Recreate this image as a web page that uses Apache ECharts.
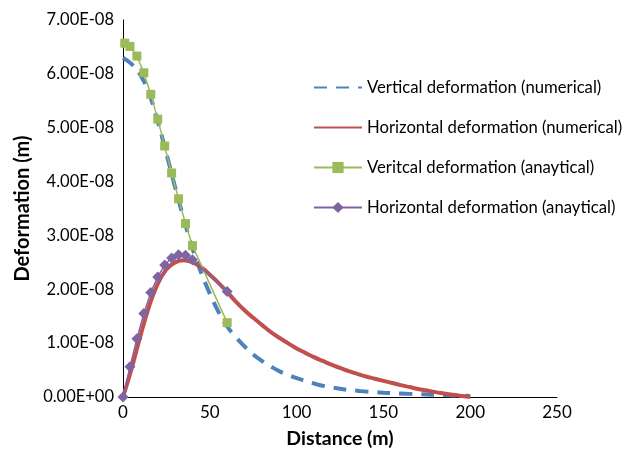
<!DOCTYPE html>
<html>
<head>
<meta charset="utf-8">
<script src="https://cdn.jsdelivr.net/npm/echarts@6/dist/echarts.min.js"></script>
<style>html,body{margin:0;padding:0;background:#fff}#c{width:635px;height:450px}</style>
</head>
<body>
<div id="c"></div>
<script>
// Numerical curves (every 5 m)
const numX = [0, 5, 10, 15, 20, 25, 30, 35, 40, 45, 50, 55, 60, 65, 70, 75, 80, 85, 90, 95, 100, 105, 110, 115, 120, 125, 130, 135, 140, 145, 150, 155, 160, 165, 170, 175, 180, 185, 190, 195, 200];
const vertNum = [6.30e-8, 6.18e-8, 5.98e-8, 5.64e-8, 5.12e-8, 4.52e-8, 3.90e-8, 3.31e-8, 2.76e-8, 2.31e-8, 1.92e-8, 1.58e-8, 1.31e-8, 1.11e-8, 0.94e-8, 0.79e-8, 0.67e-8, 0.57e-8, 0.48e-8, 0.41e-8, 0.35e-8, 0.30e-8, 0.25e-8, 0.21e-8, 0.18e-8, 0.155e-8, 0.13e-8, 0.115e-8, 0.10e-8, 0.09e-8, 0.08e-8, 0.072e-8, 0.065e-8, 0.058e-8, 0.052e-8, 0.046e-8, 0.04e-8, 0.035e-8, 0.03e-8, 0.025e-8, 0.02e-8];
const horNum = [0, 0.53e-8, 1.13e-8, 1.68e-8, 2.10e-8, 2.37e-8, 2.50e-8, 2.54e-8, 2.50e-8, 2.41e-8, 2.27e-8, 2.12e-8, 1.95e-8, 1.77e-8, 1.61e-8, 1.47e-8, 1.34e-8, 1.21e-8, 1.10e-8, 1.00e-8, 0.90e-8, 0.82e-8, 0.74e-8, 0.67e-8, 0.60e-8, 0.54e-8, 0.48e-8, 0.43e-8, 0.38e-8, 0.34e-8, 0.30e-8, 0.26e-8, 0.22e-8, 0.185e-8, 0.15e-8, 0.12e-8, 0.09e-8, 0.065e-8, 0.04e-8, 0.02e-8, 0];
// Analytical points
const anaX = [1, 4, 8, 12, 16, 20, 24, 28, 32, 36, 40, 60];
const vertAna = [6.57e-8, 6.51e-8, 6.33e-8, 6.02e-8, 5.62e-8, 5.16e-8, 4.66e-8, 4.16e-8, 3.68e-8, 3.22e-8, 2.81e-8, 1.38e-8];
const horAnaX = [0, 4, 8, 12, 16, 20, 24, 28, 32, 36, 40, 60];
const horAna = [0, 0.56e-8, 1.08e-8, 1.55e-8, 1.94e-8, 2.23e-8, 2.45e-8, 2.58e-8, 2.64e-8, 2.63e-8, 2.55e-8, 1.96e-8];
const names = ['Vertical deformation (numerical)', 'Horizontal deformation (numerical)', 'Veritcal deformation (anaytical)', 'Horizontal deformation (anaytical)'];
const xTitle = 'Distance (m)';
const yTitle = 'Deformation (m)';

const zip = (xs, ys) => xs.map((x, i) => [x, ys[i]]);
function sci(v) {
  if (Math.abs(v) < 1e-20) return '0.00E+00';
  const e = Math.floor(Math.log10(Math.abs(v)) + 1e-9);
  const m = v / Math.pow(10, e);
  const es = (e < 0 ? '-' : '+') + String(Math.abs(e)).padStart(2, '0');
  return m.toFixed(2) + 'E' + es;
}
const FONT = 'Lato';
const chart = echarts.init(document.getElementById('c'), null, {renderer: 'canvas'});
chart.setOption({
  animation: false,
  backgroundColor: '#fff',
  grid: {left: 123, right: 78, top: 20, bottom: 53, containLabel: false, outerBoundsMode: 'none'},
  legend: {
    orient: 'vertical', left: 313, top: 79, padding: 0,
    itemWidth: 48, itemHeight: 14, itemGap: 23,
    textStyle: {fontFamily: FONT, fontSize: 16.7, color: '#000'},
    data: [
      {name: names[0], itemStyle: {opacity: 0}},
      {name: names[1], itemStyle: {opacity: 0}},
      {name: names[2]},
      {name: names[3]}
    ]
  },
  xAxis: {
    type: 'value', min: 0, max: 250, interval: 50,
    name: xTitle, nameLocation: 'middle', nameGap: 32,
    nameTextStyle: {fontFamily: FONT, fontSize: 19.5, fontWeight: 'bold', color: '#000'},
    axisLine: {lineStyle: {color: '#000', width: 1}},
    axisTick: {show: false},
    splitLine: {show: false},
    axisLabel: {fontFamily: FONT, fontSize: 17, color: '#000', margin: 7}
  },
  yAxis: {
    type: 'value', min: 0, max: 7e-8, interval: 1e-8,
    name: yTitle, nameLocation: 'middle', nameGap: 88,
    nameTextStyle: {fontFamily: FONT, fontSize: 20, fontWeight: 'bold', color: '#000'},
    axisLine: {show: true, lineStyle: {color: '#000', width: 1}},
    axisTick: {show: false},
    splitLine: {show: false},
    axisLabel: {fontFamily: FONT, fontSize: 16.5, color: '#000', margin: 9, formatter: sci}
  },
  series: [
    {name: names[0], type: 'line', data: zip(numX, vertNum), smooth: 0.4, showSymbol: false, symbol: 'none',
     lineStyle: {color: '#4F81BD', width: 4, type: [13, 9], cap: 'butt'}, itemStyle: {color: '#4F81BD'}, z: 2},
    {name: names[1], type: 'line', data: zip(numX, horNum), smooth: 0.4, showSymbol: false, symbol: 'none',
     lineStyle: {color: '#C0504D', width: 4}, itemStyle: {color: '#C0504D'}, z: 3},
    {name: names[2], type: 'line', data: zip(anaX, vertAna), symbol: 'rect', symbolSize: 9,
     lineStyle: {color: '#9BBB59', width: 1.5}, itemStyle: {color: '#9BBB59'}, z: 4},
    {name: names[3], type: 'line', data: zip(horAnaX, horAna), symbol: 'diamond', symbolSize: 11,
     lineStyle: {color: '#8064A2', width: 1.5}, itemStyle: {color: '#8064A2'}, z: 5}
  ]
});
</script>
</body>
</html>
